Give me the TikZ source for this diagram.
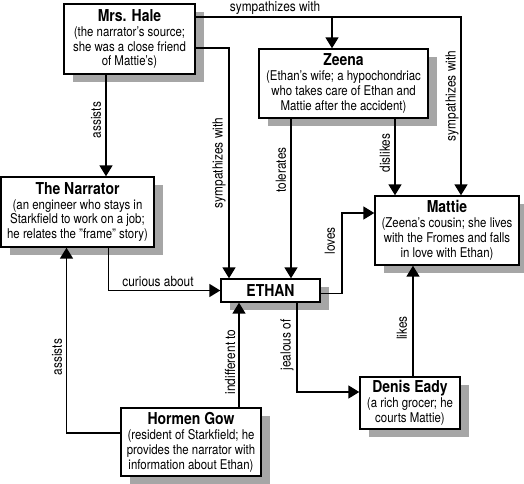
\documentclass[tikz,border=0pt]{standalone}
\usepackage{fontspec}
\setmainfont{TeX Gyre Heros}[FakeStretch=0.85]
\usetikzlibrary{arrows.meta,shadows}
\newcommand\nodetitle[1]{{\fontsize{16.5}{18}\selectfont\bfseries #1}}
\begin{document}
\begin{tikzpicture}[x=1bp,y=-1bp,
  box/.style={draw=black,line width=1.4bp,fill=white,align=center,inner sep=0pt,
    drop shadow={shadow xshift=9bp,shadow yshift=-8bp,fill=black!35,opacity=1},
    font=\fontsize{13.5}{15}\selectfont},
  conn/.style={line width=1.7bp,-{Triangle[length=11bp,width=13bp]}},
  lbl/.style={font=\fontsize{14}{15}\selectfont,inner sep=0pt}]
\useasboundingbox (0,0) rectangle (524,484);
% boxes
\node[box,minimum width=131bp,minimum height=70bp] (hale) at (129.5,39) {\nodetitle{Mrs. Hale}\\(the narrator’s source;\\she was a close friend\\of Mattie’s)};
\node[box,minimum width=169bp,minimum height=69bp] (zeena) at (343.5,83.5) {\nodetitle{Zeena}\\(Ethan’s wife; a hypochondriac\\who takes care of Ethan and\\Mattie after the accident)};
\node[box,minimum width=153bp,minimum height=70bp] (narr) at (77.5,212) {\nodetitle{The Narrator}\\(an engineer who stays in\\Starkfield to work on a job;\\he relates the "frame" story)};
\node[box,minimum width=144bp,minimum height=69bp] (mattie) at (447,230.5) {\nodetitle{Mattie}\\(Zeena’s cousin; she lives\\with the Fromes and falls\\in love with Ethan)};
\node[box,minimum width=99bp,minimum height=23bp] (ethan) at (270.5,290.5) {\nodetitle{ETHAN}};
\node[box,minimum width=140bp,minimum height=68bp] (gow) at (191,442) {\nodetitle{Hormen Gow}\\(resident of Starkfield; he\\provides the narrator with\\information about Ethan)};
\node[box,minimum width=100bp,minimum height=52bp] (denis) at (410,403) {\nodetitle{Denis Eady}\\(a rich grocer; he\\courts Mattie)};
% helper coordinates
\coordinate (ht) at ([yshift=-14bp]hale.north east);
\coordinate (zt) at ([xshift=-11.5bp]zeena.north);
\coordinate (mt) at ([xshift=14bp]mattie.north);
\coordinate (hs) at ([yshift=-45bp]hale.north east);
\coordinate (et) at ([xshift=-41.5bp]ethan.north);
\coordinate (h1) at ([xshift=-23.5bp]hale.south);
\coordinate (z1) at ([xshift=-52.5bp]zeena.south);
\coordinate (z2) at ([xshift=51.5bp]zeena.south);
\coordinate (n0) at ([xshift=31bp]narr.south);
\coordinate (e1) at ([yshift=-3bp]ethan.east);
\coordinate (m1) at ([yshift=17.5bp]mattie.west);
\coordinate (e2) at ([xshift=26.5bp]ethan.south);
\coordinate (d1) at ([yshift=11bp]denis.west);
\coordinate (d2) at ([xshift=3bp]denis.north);
\coordinate (g1) at ([xshift=48bp]gow.north);
\coordinate (g2) at ([yshift=9bp]gow.west);
\coordinate (n1) at ([xshift=-11bp]narr.south);
% connectors
\draw[conn] (ht) -| (mt);
\draw[conn] (ht -| zt) -- (zt);
\draw[conn] (hs) -| (et);
\draw[conn] (h1) -- (h1 |- narr.north);
\draw[conn] (z1) -- (z1 |- ethan.north);
\draw[conn] (z2) -- (z2 |- mattie.north);
\draw[conn] (n0) |- (ethan.west);
\draw[conn] (e1) -- ++(21,0) |- (m1);
\draw[conn] (e2) |- (d1);
\draw[conn] (d2) -- (d2 |- mattie.south);
\draw[conn] (g1) -- (g1 |- ethan.south);
\draw[conn] (g2) -| (n1);
% labels
\node[lbl] (l1) at (275,8) {sympathizes with};
\node[lbl,rotate=90] (l2) at (96,120) {assists};
\node[lbl,rotate=90] (l3) at (219,163) {sympathizes with};
\node[lbl,rotate=90] (l4) at (281,170) {tolerates};
\node[lbl,rotate=90] (l5) at (385,153) {dislikes};
\node[lbl,rotate=90] (l6) at (452,96) {sympathizes with};
\node[lbl] (l7) at (158,282) {curious about};
\node[lbl,rotate=90] (l8) at (330,241) {loves};
\node[lbl,rotate=90] (l9) at (287,345) {jealous of};
\node[lbl,rotate=90] (l10) at (402,328) {likes};
\node[lbl,rotate=90] (l11) at (230,362) {indifferent to};
\node[lbl,rotate=90] (l12) at (57,357) {assists};
\end{tikzpicture}
\end{document}
